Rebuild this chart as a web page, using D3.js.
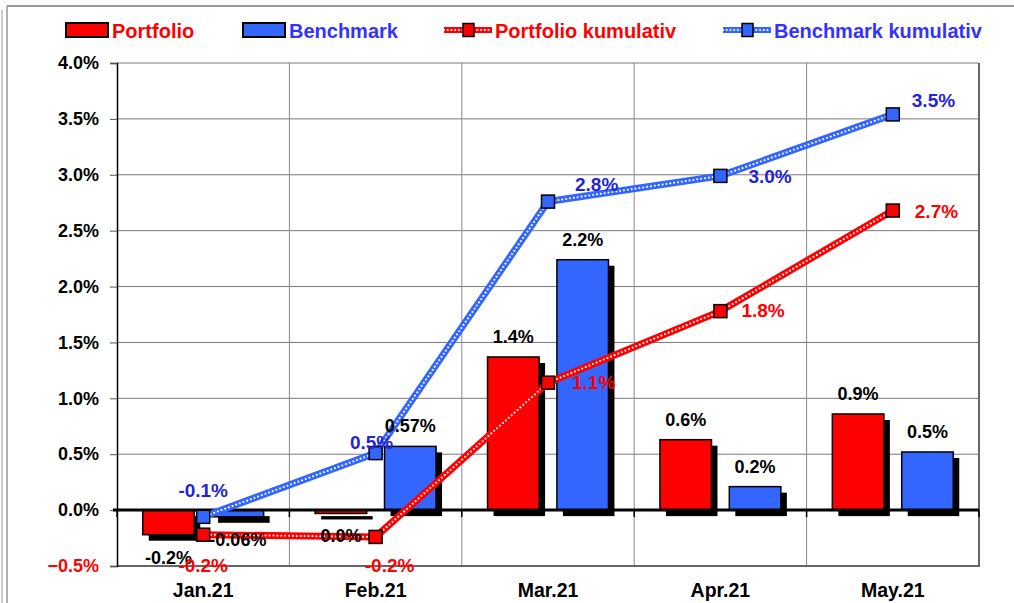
<!DOCTYPE html>
<html>
<head>
<meta charset="utf-8">
<script src="https://cdn.jsdelivr.net/npm/d3@7"></script>
<style>
  html, body { margin: 0; padding: 0; background: #fff; }
  svg text { font-family: "Liberation Sans", Arial, sans-serif; font-weight: bold; }
</style>
</head>
<body>
<div id="container"></div>
<script>
const width = 1014;
const height = 603;

// chart data (values in %)
const months = ["Jan.21", "Feb.21", "Mar.21", "Apr.21", "May.21"];
const portfolio = [-0.22, -0.03, 1.37, 0.63, 0.86];
const benchmark = [-0.06, 0.57, 2.24, 0.21, 0.52];
const portfolioCum = [-0.22, -0.24, 1.14, 1.78, 2.68];
const benchmarkCum = [-0.06, 0.51, 2.76, 2.99, 3.54];
const portfolioLabels = ["-0.2%", "0.0%", "1.4%", "0.6%", "0.9%"];
const benchmarkLabels = ["-0.06%", "0.57%", "2.2%", "0.2%", "0.5%"];
const portfolioCumLabels = ["-0.2%", "-0.2%", "1.1%", "1.8%", "2.7%"];
const benchmarkCumLabels = ["-0.1%", "0.5%", "2.8%", "3.0%", "3.5%"];
const yTicks = [-0.5, 0, 0.5, 1, 1.5, 2, 2.5, 3, 3.5, 4];

// label placement for the cumulative lines [dx, dy, anchor]
const portfolioCumPlace = [[0, 37, "middle"], [14, 35, "middle"], [24, 6, "start"], [21, 6, "start"], [22, 7, "start"]];
const benchmarkCumPlace = [[0, -20, "middle"], [-4, -4, "middle"], [27, -11, "start"], [28, 7, "start"], [19, -7, "start"]];

const RED = "#ff0000";
const BLUE = "#3366ff";
const BLUE_TEXT = "#2424d6";

const margin = {left: 117, right: 35, top: 63, bottom: 37};

let svg = d3.select("#container")
	.append("svg")
	.attr("width", width)
	.attr("height", height);

// outer frame
svg.append("line").attr("x1", 7).attr("x2", width).attr("y1", 6).attr("y2", 6)
	.attr("stroke", "#777").attr("stroke-width", 1.5);
svg.append("line").attr("x1", 7).attr("x2", 7).attr("y1", 6).attr("y2", height)
	.attr("stroke", "#999").attr("stroke-width", 1.5);
svg.append("line").attr("x1", 2).attr("x2", 2).attr("y1", 10).attr("y2", height)
	.attr("stroke", "#bbb").attr("stroke-width", 1.5);

const x = d3.scaleBand()
	.domain(months)
	.range([margin.left, width - margin.right]);

const x1 = d3.scaleBand()
	.domain(["p", "b"])
	.range([0, x.bandwidth()])
	.paddingInner(0.257)
	.paddingOuter(0.371);

const y = d3.scaleLinear()
	.domain([-0.5, 4])
	.range([height - margin.bottom, margin.top]);

const plotL = margin.left, plotR = width - margin.right;

// grid
svg.append("g").selectAll("line.h")
	.data(yTicks)
	.enter().append("line")
	.attr("x1", plotL).attr("x2", plotR)
	.attr("y1", d => y(d)).attr("y2", d => y(d))
	.attr("stroke", "#7a7a7a").attr("stroke-width", 1);

svg.append("g").selectAll("line.v")
	.data(months.slice(1))
	.enter().append("line")
	.attr("x1", d => x(d)).attr("x2", d => x(d))
	.attr("y1", y(4)).attr("y2", y(-0.5))
	.attr("stroke", "#8a8a8a").attr("stroke-width", 1);

// plot border right + bottom
svg.append("path")
	.attr("d", `M${plotR},${y(4)} V${y(-0.5)} H${plotL}`)
	.attr("fill", "none").attr("stroke", "#666").attr("stroke-width", 2);

// y axis
const yAxis = svg.append("g")
	.attr("transform", `translate(${plotL},0)`)
	.call(d3.axisLeft(y).tickValues(yTicks).tickSize(7).tickPadding(11)
		.tickFormat(d => d3.format(".1f")(d) + "%"));
yAxis.select(".domain").attr("stroke", "#000").attr("stroke-width", 1.5);
yAxis.selectAll(".tick line").attr("stroke", "#555");
yAxis.selectAll(".tick text")
	.attr("font-size", "18px")
	.attr("font-family", "'Liberation Sans', Arial, sans-serif")
	.attr("font-weight", "bold")
	.attr("fill", d => d < 0 ? RED : "#000");

// bars
const bars = [];
months.forEach((m, i) => {
	bars.push({m: m, k: "p", v: portfolio[i], label: portfolioLabels[i], color: RED});
	bars.push({m: m, k: "b", v: benchmark[i], label: benchmarkLabels[i], color: BLUE});
});

const barG = svg.append("g");
barG.selectAll("rect.shadow")
	.data(bars)
	.enter().append("rect")
	.attr("x", d => x(d.m) + x1(d.k) + 6)
	.attr("y", d => Math.min(y(d.v), y(0)) + 6)
	.attr("width", x1.bandwidth())
	.attr("height", d => Math.abs(y(d.v) - y(0)))
	.attr("fill", "#000");

barG.selectAll("rect.bar")
	.data(bars)
	.enter().append("rect")
	.attr("x", d => x(d.m) + x1(d.k))
	.attr("y", d => Math.min(y(d.v), y(0)))
	.attr("width", x1.bandwidth())
	.attr("height", d => Math.abs(y(d.v) - y(0)))
	.attr("fill", d => d.color)
	.attr("stroke", "#000")
	.attr("stroke-width", 1.5);

// zero axis with category ticks
svg.append("line")
	.attr("x1", plotL - 4).attr("x2", plotR)
	.attr("y1", y(0)).attr("y2", y(0))
	.attr("stroke", "#000").attr("stroke-width", 3);
svg.append("g").selectAll("line")
	.data(months.concat(["end"]))
	.enter().append("line")
	.attr("x1", d => d === "end" ? plotR : x(d))
	.attr("x2", d => d === "end" ? plotR : x(d))
	.attr("y1", y(0)).attr("y2", y(0) + 7)
	.attr("stroke", "#000").attr("stroke-width", 1.5);

// x labels
svg.append("g").selectAll("text")
	.data(months)
	.enter().append("text")
	.attr("x", d => x(d) + x.bandwidth() / 2)
	.attr("y", 597)
	.attr("text-anchor", "middle")
	.attr("font-size", "19.5px")
	.attr("fill", "#000")
	.text(d => d);

// cumulative lines
const line = d3.line()
	.x((d, i) => x(months[i]) + x.bandwidth() / 2)
	.y(d => y(d));

function drawCum(values, color) {
	const g = svg.append("g");
	g.append("path").datum(values)
		.attr("d", line).attr("fill", "none")
		.attr("stroke", color).attr("stroke-width", 7);
	g.append("path").datum(values)
		.attr("d", line).attr("fill", "none")
		.attr("stroke", "#fff").attr("stroke-width", 2)
		.attr("stroke-linecap", "round")
		.attr("stroke-dasharray", "0.1,3.8");
	g.selectAll("rect")
		.data(values)
		.enter().append("rect")
		.attr("x", (d, i) => x(months[i]) + x.bandwidth() / 2 - 6.5)
		.attr("y", d => y(d) - 6.5)
		.attr("width", 13).attr("height", 13)
		.attr("fill", color)
		.attr("stroke", "#000").attr("stroke-width", 1.5);
}
drawCum(benchmarkCum, BLUE);
drawCum(portfolioCum, RED);

// bar labels (drawn over the lines, like the original)
svg.append("g").selectAll("text")
	.data(bars)
	.enter().append("text")
	.attr("x", d => x(d.m) + x1(d.k) + x1.bandwidth() / 2)
	.attr("y", d => d.v >= 0 ? y(d.v) - 14 : y(d.v) + 29)
	.attr("text-anchor", "middle")
	.attr("font-size", "18px")
	.attr("fill", "#000")
	.text(d => d.label);

function cumLabels(values, labels, place, color) {
	svg.append("g").selectAll("text")
		.data(values)
		.enter().append("text")
		.attr("x", (d, i) => x(months[i]) + x.bandwidth() / 2 + place[i][0])
		.attr("y", (d, i) => y(d) + place[i][1])
		.attr("text-anchor", (d, i) => place[i][2])
		.attr("font-size", "19px")
		.attr("fill", color)
		.text((d, i) => labels[i]);
}
cumLabels(benchmarkCum, benchmarkCumLabels, benchmarkCumPlace, BLUE_TEXT);
cumLabels(portfolioCum, portfolioCumLabels, portfolioCumPlace, RED);

// legend
const legend = svg.append("g");
const legendItems = [
	{name: "Portfolio", type: "bar", color: RED, text: RED, x: 66},
	{name: "Benchmark", type: "bar", color: BLUE, text: "#3333ff", x: 243},
	{name: "Portfolio kumulativ", type: "line", color: RED, text: RED, x: 444},
	{name: "Benchmark kumulativ", type: "line", color: BLUE, text: "#3333ff", x: 723}
];
legendItems.forEach(it => {
	const g = legend.append("g").attr("transform", `translate(${it.x},30)`);
	if (it.type === "bar") {
		g.append("rect").attr("x", 0).attr("y", -7).attr("width", 42).attr("height", 14)
			.attr("fill", it.color).attr("stroke", "#000").attr("stroke-width", 2);
	} else {
		g.append("line").attr("x1", 0).attr("x2", 48).attr("y1", 0).attr("y2", 0)
			.attr("stroke", it.color).attr("stroke-width", 6);
		g.append("line").attr("x1", 0).attr("x2", 48).attr("y1", 0).attr("y2", 0)
			.attr("stroke", "#fff").attr("stroke-width", 2).attr("stroke-linecap", "round")
			.attr("stroke-dasharray", "0.1,3.6");
		g.append("rect").attr("x", 19).attr("y", -6.5).attr("width", 11).attr("height", 13)
			.attr("fill", it.color).attr("stroke", "#000").attr("stroke-width", 1.5);
	}
	g.append("text")
		.attr("x", it.type === "bar" ? 46 : 51)
		.attr("y", 7.5)
		.attr("font-size", "20px")
		.attr("fill", it.text)
		.text(it.name);
});
</script>
</body>
</html>
